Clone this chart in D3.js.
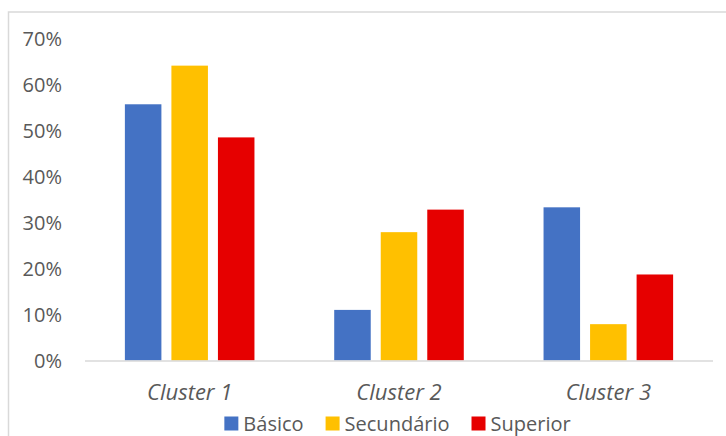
<!DOCTYPE html>
<html>
<head>
<meta charset="utf-8">
<script src="https://cdn.jsdelivr.net/npm/d3@7"></script>
<style>
  html, body { margin: 0; padding: 0; background: #fff; }
  svg { display: block; }
  text { font-family: "Open Sans", sans-serif; fill: #595959; }
</style>
</head>
<body>
<svg id="chart" width="726" height="436"></svg>
<script>
// Share of education level within each cluster
const clusters = ["Cluster 1", "Cluster 2", "Cluster 3"];
const series = ["Básico", "Secundário", "Superior"];
const basico = [55.7, 11.0, 33.3];
const secundario = [64.1, 27.9, 7.9];
const superior = [48.5, 32.8, 18.7];
const yTicks = [0, 10, 20, 30, 40, 50, 60, 70];
const colors = ["#4472C4", "#FFC000", "#E60000"];

const values = [basico, secundario, superior];

const svg = d3.select("#chart");
const W = 726, H = 436;

// chart frame (top and left edges visible)
svg.append("rect")
  .attr("x", 8.5).attr("y", 12)
  .attr("width", W + 20).attr("height", H + 20)
  .attr("fill", "none").attr("stroke", "#d9d9d9").attr("stroke-width", 1.5);

const plot = { left: 85, right: 713, top: 38.5, bottom: 360.5 };

const y = d3.scaleLinear().domain([0, 70]).range([plot.bottom, plot.top]);
const x0 = d3.scaleBand().domain(clusters).range([plot.left, plot.right])
  .paddingInner(0.381).paddingOuter(0.1905);
const x1 = d3.scaleBand().domain(series).range([0, x0.bandwidth()]).paddingInner(0.215);

// y axis labels (no line, no ticks)
const yAxis = d3.axisLeft(y).tickValues(yTicks).tickFormat(d => d + "%").tickSize(0).tickPadding(0);
const gy = svg.append("g").attr("transform", `translate(62,0)`).call(yAxis);
gy.select(".domain").remove();
gy.selectAll("text").style("font-size", "20px").attr("fill", "#595959")
  .attr("font-family", "Open Sans").attr("dy", "0.36em");

// bars
const groups = svg.append("g").selectAll("g")
  .data(clusters).join("g")
  .attr("transform", d => `translate(${x0(d)},0)`);

groups.selectAll("rect")
  .data((c, i) => series.map((s, k) => ({ s, v: values[k][i], color: colors[k] })))
  .join("rect")
  .attr("x", d => x1(d.s))
  .attr("width", x1.bandwidth())
  .attr("y", d => y(d.v))
  .attr("height", d => y(0) - y(d.v))
  .attr("fill", d => d.color);

// category axis
const xAxis = d3.axisBottom(x0).tickSize(0).tickPadding(0);
const gx = svg.append("g").attr("transform", `translate(0,${plot.bottom})`).call(xAxis);
gx.select(".domain").attr("stroke", "#d9d9d9").attr("stroke-width", 1.5)
  .attr("d", `M${plot.left},0.5H${plot.right}`);
gx.selectAll("text").style("font-size", "22px").style("font-style", "italic")
  .attr("fill", "#595959").attr("font-family", "Open Sans")
  .attr("y", 39).attr("dy", "0");

// legend
const legend = svg.append("g");
const items = legend.selectAll("g").data(series).join("g");
items.append("rect").attr("width", 14).attr("height", 14).attr("y", 416.5)
  .attr("fill", (d, i) => colors[i]);
items.append("text").text(d => d).attr("x", 19).attr("y", 430.5)
  .style("font-size", "20px").attr("fill", "#595959");
let cx = 0;
const offsets = [];
items.each(function () {
  offsets.push(cx);
  const w = d3.select(this).select("text").node().getComputedTextLength();
  cx += 19 + w + 22;
});
const total = cx - 22;
const startX = 397.5 - total / 2;
items.attr("transform", (d, i) => `translate(${startX + offsets[i]},0)`);
</script>
</body>
</html>
